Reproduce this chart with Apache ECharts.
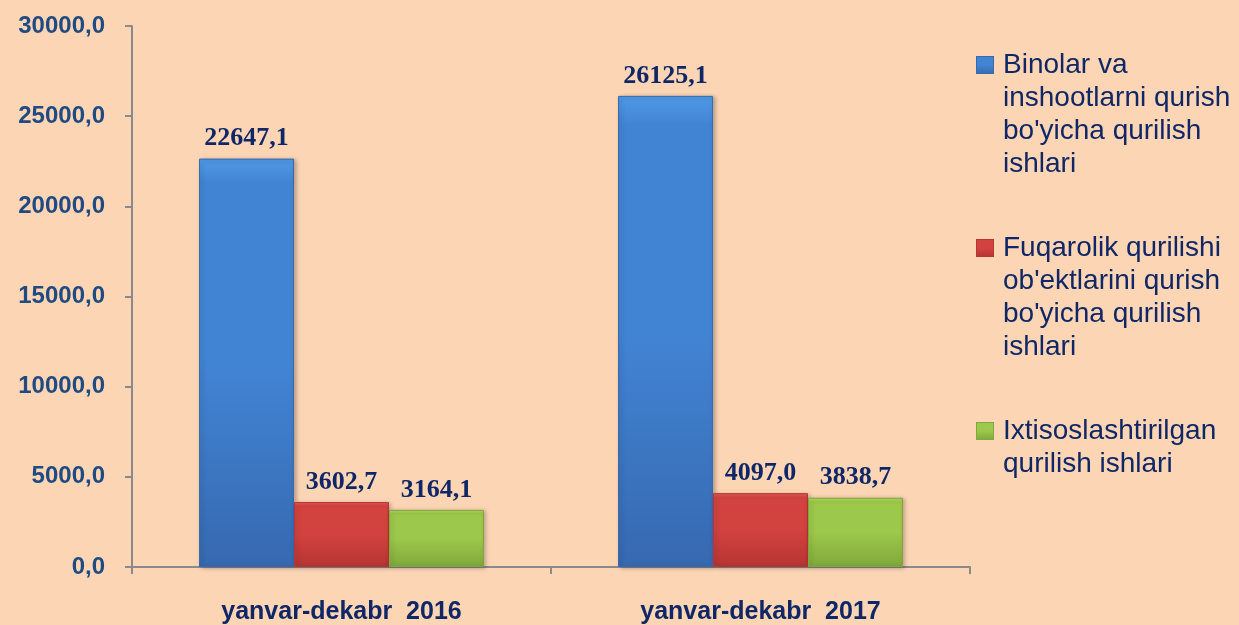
<!DOCTYPE html>
<html>
<head>
<meta charset="utf-8">
<script src="https://cdn.jsdelivr.net/npm/echarts@6/dist/echarts.min.js"></script>
<style>
  html, body { margin: 0; padding: 0; background: #fcd5b5; }
  #chart { width: 1239px; height: 625px; }
</style>
</head>
<body>
<div id="chart"></div>
<script>
const categories = ['yanvar-dekabr  2016', 'yanvar-dekabr  2017']
const seriesNames = [
  "Binolar va\ninshootlarni qurish\nbo'yicha qurilish\nishlari",
  "Fuqarolik qurilishi\nob'ektlarini qurish\nbo'yicha qurilish\nishlari",
  'Ixtisoslashtirilgan\nqurilish ishlari'
]
const binolar = [22647.1, 26125.1]
const fuqarolik = [3602.7, 4097.0]
const ixtisos = [3164.1, 3838.7]
const yTicks = [0, 5000, 10000, 15000, 20000, 25000, 30000]

const navy = '#0f2766'
const comma = v => Number(v).toFixed(1).replace('.', ',')

// bevel-ish look: light top, darker bottom
const barColors = [
  ['#509ae6', '#4284d4', '#3669b0'],
  ['#e85f5c', '#d2423f', '#b63533'],
  ['#b6e063', '#9cc84b', '#80a83b']
]

const grad = c => new echarts.graphic.LinearGradient(0, 0, 0, 1, [
  { offset: 0, color: c[0] },
  { offset: 0.06, color: c[1] },
  { offset: 0.5, color: c[1] },
  { offset: 1, color: c[2] }
])

const chart = echarts.init(document.getElementById('chart'))

const dataSets = [binolar, fuqarolik, ixtisos]
const series = dataSets.map((d, i) => ({
  name: seriesNames[i],
  type: 'bar',
  data: d,
  barGap: '0%',
  barCategoryGap: '32%',
  itemStyle: {
    color: grad(barColors[i]),
    borderColor: barColors[i][2],
    borderWidth: 1,
    shadowColor: 'rgba(0,0,0,0.25)',
    shadowBlur: 4,
    shadowOffsetX: 2,
    shadowOffsetY: 1
  },
  label: {
    show: true,
    position: 'top',
    distance: 7,
    formatter: p => comma(p.value),
    fontFamily: '"Liberation Serif", "Times New Roman", serif',
    fontWeight: 'bold',
    fontSize: 26,
    color: navy
  }
}))

// legend marker drawn as rich text so it sits on the first line
const legendText = (name, i) => {
  const lines = name.split('\n')
  return lines.map((l, k) => (k === 0 ? '{sq' + i + '|}{g|}' : '{ind|}') + '{t|' + l + '}').join('\n')
}
const rich = {
  g: { width: 10 },
  ind: { width: 26 },
  t: { fontSize: 28, lineHeight: 33, color: navy, fontFamily: '"Liberation Sans", Arial, sans-serif' }
}
barColors.forEach((c, i) => {
  rich['sq' + i] = {
    width: 16, height: 16,
    backgroundColor: grad(c),
    borderColor: c[2], borderWidth: 1
  }
})

chart.setOption({
  backgroundColor: '#fcd5b5',
  animation: false,
  grid: { left: 132, right: 269, top: 26, bottom: 56, containLabel: false },
  legend: {
    orient: 'vertical',
    left: 972,
    top: 51,
    icon: 'none',
    itemWidth: 0,
    itemHeight: 0,
    itemGap: 56,
    padding: 0,
    selectedMode: false,
    data: seriesNames,
    formatter: name => legendText(name, seriesNames.indexOf(name)),
    textStyle: { padding: 0, rich: rich }
  },
  xAxis: {
    type: 'category',
    data: categories,
    axisLine: { lineStyle: { color: '#8a8a8a', width: 2 } },
    axisTick: { show: true, length: 7, lineStyle: { color: '#8a8a8a', width: 2 } },
    axisLabel: {
      margin: 33,
      fontFamily: '"Liberation Sans", Arial, sans-serif',
      fontWeight: 'bold',
      fontSize: 25,
      color: navy
    }
  },
  yAxis: {
    type: 'value',
    min: 0,
    max: 30000,
    interval: 5000,
    axisLine: { show: true, lineStyle: { color: '#8a8a8a', width: 2 } },
    axisTick: { show: true, length: 7, lineStyle: { color: '#8a8a8a', width: 2 } },
    splitLine: { show: false },
    axisLabel: {
      margin: 27,
      padding: [8, 0, 0, 0],
      formatter: v => yTicks.includes(v) ? comma(v) : '',
      fontFamily: '"Liberation Sans", Arial, sans-serif',
      fontWeight: 'bold',
      fontSize: 24,
      color: '#1f4a82'
    }
  },
  series: series
})
</script>
</body>
</html>
